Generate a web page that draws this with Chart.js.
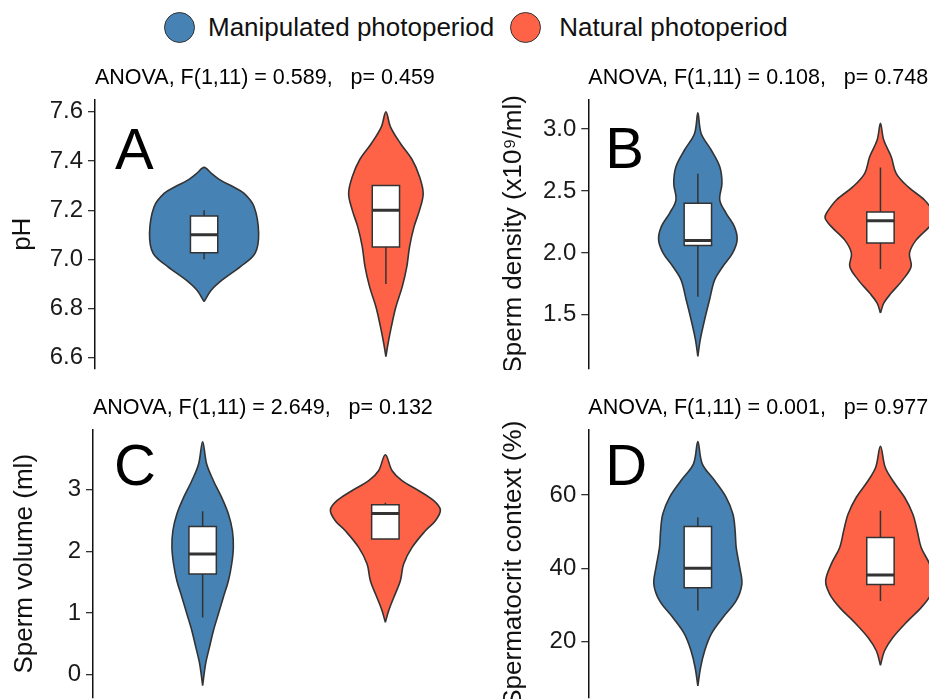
<!DOCTYPE html>
<html>
<head>
<meta charset="utf-8">
<script src="https://cdn.jsdelivr.net/npm/chart.js@4.4.1/dist/chart.umd.min.js"></script>
<style>
  html, body { margin: 0; padding: 0; background: #fff; }
  #page { position: relative; width: 929px; height: 699px; overflow: hidden; font-family: "Liberation Sans", Arial, sans-serif; }
  #page canvas { position: absolute; }
  #legend { position: absolute; left: 164px; top: 12px; display: flex; align-items: center; font-size: 26px; color: #111; white-space: nowrap; }
  .dot { width: 31px; height: 31px; border-radius: 50%; border: 1.5px solid #333; box-sizing: border-box; }
</style>
</head>
<body>
<div id="page">
  <div id="legend">
    <span class="dot" style="background:#4682B4"></span>
    <span style="margin-left:13px">Manipulated photoperiod</span>
    <span class="dot" style="background:#FF6347;margin-left:16px"></span>
    <span style="margin-left:18px">Natural photoperiod</span>
  </div>
  <canvas id="panelA" width="500" height="310" style="left:0px;top:60px"></canvas>
  <canvas id="panelB" width="493" height="310" style="left:497px;top:60px"></canvas>
  <canvas id="panelC" width="500" height="310" style="left:0px;top:390px"></canvas>
  <canvas id="panelD" width="493" height="310" style="left:497px;top:390px"></canvas>
</div>
<script>
// groups (x positions 1 and 2)
const groups = ["Manipulated photoperiod", "Natural photoperiod"];
const groupColors = ["#4682B4", "#FF6347"];

// A: pH  -- violin outline = density half-width (category units) at y levels
const phTicks = [6.6, 6.8, 7.0, 7.2, 7.4, 7.6];
const phManipLevels = [6.828, 6.875, 6.916, 6.97, 7.024, 7.106, 7.214, 7.268, 7.295, 7.322, 7.35, 7.374];
const phManipWidths = [0, 0.04, 0.10, 0.20, 0.28, 0.30, 0.275, 0.22, 0.16, 0.09, 0.04, 0];
const phNaturalLevels = [6.604, 6.658, 6.726, 6.807, 6.889, 6.97, 7.051, 7.133, 7.2, 7.268, 7.336, 7.404, 7.471, 7.539, 7.6];
const phNaturalWidths = [0, 0.012, 0.03, 0.055, 0.09, 0.115, 0.13, 0.155, 0.185, 0.205, 0.185, 0.145, 0.08, 0.025, 0];
// box stats: lower whisker, q1, median, q3, upper whisker
const phManipBox = [7.0, 7.027, 7.1, 7.176, 7.2];
const phNaturalBox = [6.9, 7.05, 7.2, 7.3, 7.3];

// B: sperm density
const densTicks = [1.5, 2.0, 2.5, 3.0];
const densManipLevels = [1.164, 1.298, 1.46, 1.621, 1.782, 1.89, 1.998, 2.105, 2.212, 2.32, 2.427, 2.562, 2.696, 2.831, 2.965, 3.131];
const densManipWidths = [0, 0.013, 0.037, 0.064, 0.092, 0.137, 0.19, 0.215, 0.2, 0.155, 0.12, 0.132, 0.12, 0.073, 0.018, 0];
const densNaturalLevels = [1.514, 1.594, 1.675, 1.782, 1.89, 1.998, 2.105, 2.212, 2.28, 2.32, 2.427, 2.535, 2.643, 2.777, 2.911, 3.046];
const densNaturalWidths = [0, 0.018, 0.059, 0.122, 0.168, 0.159, 0.196, 0.269, 0.303, 0.296, 0.241, 0.15, 0.086, 0.059, 0.018, 0];
const densManipBox = [1.645, 2.06, 2.10, 2.40, 2.64];
const densNaturalBox = [1.87, 2.08, 2.26, 2.33, 2.69];

// C: sperm volume
const volTicks = [0, 1, 2, 3];
const volManipLevels = [-0.177, 0.175, 0.444, 0.715, 0.985, 1.254, 1.525, 1.796, 2.065, 2.335, 2.606, 2.875, 3.146, 3.417, 3.778];
const volManipWidths = [0, 0.016, 0.037, 0.059, 0.086, 0.113, 0.141, 0.159, 0.168, 0.163, 0.141, 0.104, 0.059, 0.022, 0];
const volNaturalLevels = [0.85, 1.039, 1.254, 1.525, 1.796, 2.065, 2.335, 2.498, 2.671, 2.822, 2.984, 3.146, 3.308, 3.567];
const volNaturalWidths = [0, 0.018, 0.046, 0.082, 0.1, 0.146, 0.219, 0.274, 0.301, 0.265, 0.183, 0.091, 0.037, 0];
const volManipBox = [0.93, 1.633, 1.957, 2.405, 2.65];
const volNaturalBox = [2.2, 2.2, 2.615, 2.757, 2.79];

// D: spermatocrit
const critTicks = [20, 40, 60];
const critManipLevels = [8.0, 13.0, 17.5, 22.1, 26.6, 31.2, 35.7, 40.3, 45.7, 50.3, 54.8, 59.35, 63.9, 68.45, 74.5];
const critManipWidths = [0, 0.015, 0.037, 0.073, 0.137, 0.21, 0.241, 0.229, 0.21, 0.204, 0.192, 0.155, 0.092, 0.024, 0];
const critNaturalLevels = [13.6, 17.5, 21.1, 25.7, 29.3, 33.0, 36.6, 41.2, 45.7, 50.3, 54.8, 59.35, 63.9, 67.5, 73.25];
const critNaturalWidths = [0, 0.022, 0.067, 0.15, 0.223, 0.278, 0.3, 0.269, 0.223, 0.201, 0.177, 0.132, 0.067, 0.026, 0];
const critManipBox = [28.5, 34.7, 40.0, 51.4, 53.9];
const critNaturalBox = [31.1, 35.6, 38.2, 48.4, 55.7];

const FONT = '"Liberation Sans", Arial, sans-serif';
Chart.defaults.font.family = FONT;
const LINE = "#333333";
const BOX_HALF = 0.075;

// outline of a violin: up the right side, down the left side
function violinPath(c, levels, widths) {
    const right = levels.map((y, k) => ({ x: c + widths[k], y: y }));
    const left = levels.map((y, k) => ({ x: c - widths[k], y: y })).reverse();
    return right.concat(left.slice(1));
}

// letter in the upper left corner of each panel
const panelLetter = {
    id: "panelLetter",
    afterDraw(chart, args, opts) {
        const { ctx, chartArea } = chart;
        ctx.save();
        ctx.font = "58px " + FONT;
        ctx.fillStyle = "#000";
        ctx.textBaseline = "alphabetic";
        ctx.fillText(opts.text, chartArea.left + opts.dx, chartArea.top + opts.dy);
        ctx.restore();
    }
};

function makePanel(id, cfg) {
    const datasets = [];
    cfg.violins.forEach((v, i) => {
        const c = i + 1;
        const [lo, q1, med, q3, hi] = v.box;
        datasets.push({
            label: groups[i],
            data: violinPath(c, v.levels, v.widths),
            backgroundColor: groupColors[i], borderColor: LINE, borderWidth: 1.6,
            fill: "shape", tension: 0.35, order: 3
        });
        datasets.push({
            data: [{ x: c, y: lo }, { x: c, y: q1 }, { x: c, y: null }, { x: c, y: q3 }, { x: c, y: hi }],
            borderColor: LINE, borderWidth: 1.5, order: 2
        });
        datasets.push({
            data: [{ x: c - BOX_HALF, y: q1 }, { x: c + BOX_HALF, y: q1 }, { x: c + BOX_HALF, y: q3 },
                   { x: c - BOX_HALF, y: q3 }, { x: c - BOX_HALF, y: q1 }],
            backgroundColor: "#fff", borderColor: LINE, borderWidth: 1.5,
            fill: "shape", borderJoinStyle: "miter", borderCapStyle: "square", order: 1
        });
        datasets.push({
            data: [{ x: c - BOX_HALF, y: med }, { x: c + BOX_HALF, y: med }],
            borderColor: LINE, borderWidth: 3, order: 0
        });
    });

    return new Chart(document.getElementById(id), {
        type: "scatter",
        data: { datasets: datasets },
        options: {
            responsive: false,
            animation: false,
            events: [],
            showLine: true,
            spanGaps: false,
            elements: { point: { radius: 0 } },
            layout: { padding: { left: 0, right: cfg.padRight, top: 0, bottom: cfg.padBottom } },
            scales: {
                x: { type: "linear", min: 0.4, max: 2.6, display: false },
                y: {
                    type: "linear", min: cfg.yMin, max: cfg.yMax,
                    afterBuildTicks: (axis) => { axis.ticks = cfg.ticks.map(t => ({ value: t })); },
                    afterFit: (scale) => { scale.width = cfg.axisWidth; scale.paddingTop = 0; scale.paddingBottom = 0; },
                    border: { display: true, color: "#111", width: 1.5 },
                    grid: { drawOnChartArea: false, drawTicks: true, tickLength: 7, color: "#333", lineWidth: 1.3 },
                    ticks: {
                        autoSkip: false, padding: 5, color: "#1a1a1a",
                        font: { size: 24 },
                        callback: (v) => Number(v).toFixed(cfg.decimals)
                    },
                    title: {
                        display: true, text: cfg.yTitle, color: "#111",
                        font: { size: 26 }, padding: { top: cfg.titlePad, bottom: 0 }
                    }
                }
            },
            plugins: {
                legend: { display: false },
                tooltip: { enabled: false },
                title: {
                    display: true, text: cfg.title, align: "start", fullSize: false,
                    color: "#000", font: { size: 21.5, weight: "normal" },
                    padding: { top: 5, bottom: 8.7 }
                },
                panelLetter: { text: cfg.letter, dx: cfg.letterDx, dy: cfg.letterDy }
            }
        },
        plugins: [panelLetter]
    });
}

makePanel("panelA", {
    title: "ANOVA, F(1,11) = 0.589,   p= 0.459", yTitle: "pH", letter: "A",
    yMin: 6.554, yMax: 7.65, ticks: phTicks, decimals: 1,
    axisWidth: 95, titlePad: 7, padRight: 5, padBottom: 1, letterDx: 20, letterDy: 69,
    violins: [
        { levels: phManipLevels, widths: phManipWidths, box: phManipBox },
        { levels: phNaturalLevels, widths: phNaturalWidths, box: phNaturalBox }
    ]
});

makePanel("panelB", {
    title: "ANOVA, F(1,11) = 0.108,   p= 0.748", yTitle: "Sperm density (x10\u2079/ml)", letter: "B",
    yMin: 1.062, yMax: 3.239, ticks: densTicks, decimals: 1,
    axisWidth: 91.3, titlePad: 1, padRight: 0, padBottom: 1, letterDx: 17, letterDy: 68,
    violins: [
        { levels: densManipLevels, widths: densManipWidths, box: densManipBox },
        { levels: densNaturalLevels, widths: densNaturalWidths, box: densNaturalBox }
    ]
});

makePanel("panelC", {
    title: "ANOVA, F(1,11) = 2.649,   p= 0.132", yTitle: "Sperm volume (ml)", letter: "C",
    yMin: -0.376, yMax: 3.976, ticks: volTicks, decimals: 0,
    axisWidth: 93, titlePad: 9, padRight: 5, padBottom: 2, letterDx: 21, letterDy: 55,
    violins: [
        { levels: volManipLevels, widths: volManipWidths, box: volManipBox },
        { levels: volNaturalLevels, widths: volNaturalWidths, box: volNaturalBox }
    ]
});

makePanel("panelD", {
    title: "ANOVA, F(1,11) = 0.001,   p= 0.977", yTitle: "Spermatocrit context (%)", letter: "D",
    yMin: 4.7, yMax: 77.8, ticks: critTicks, decimals: 0,
    axisWidth: 91.3, titlePad: 1, padRight: 0, padBottom: 2, letterDx: 17, letterDy: 55,
    violins: [
        { levels: critManipLevels, widths: critManipWidths, box: critManipBox },
        { levels: critNaturalLevels, widths: critNaturalWidths, box: critNaturalBox }
    ]
});
</script>
</body>
</html>
